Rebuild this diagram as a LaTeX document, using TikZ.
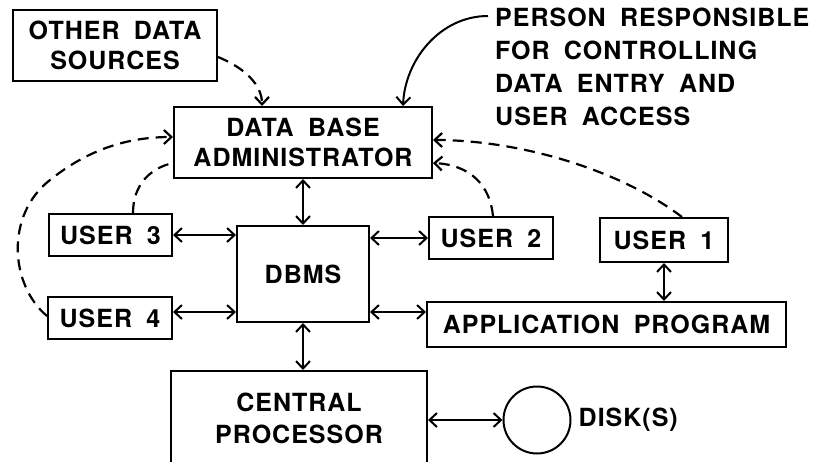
\documentclass[tikz,border=0pt]{standalone}
\usepackage{fontspec}
\setmainfont{TeX Gyre Heros}[LetterSpace=4,WordSpace=1.8]
\usetikzlibrary{arrows.meta}
\begin{document}
\begin{tikzpicture}[x=1pt,y=-1pt,
  lbl/.style={font=\bfseries\fontsize{25}{30}\selectfont, inner sep=0pt, align=center},
  box/.style={lbl, draw, line width=2pt},
  tip/.tip={Straight Barb[length=7.5pt,width=14pt]},
  arr/.style={line width=2pt, tip-tip},
  dsh/.style={line width=2.2pt, dash pattern=on 11pt off 7pt},
]
\clip (0,0) rectangle (817,461);
\useasboundingbox (0,0) rectangle (817,461);

\node[box, minimum width=204pt, minimum height=71pt] (ods) at (115,45.5) {OTHER DATA\\SOURCES};
\node[box, minimum width=258pt, minimum height=71pt] (dba) at (303,142.5) {DATA BASE\\ADMINISTRATOR};
\node[box, minimum width=123pt, minimum height=42pt] (u3) at (110.5,235) {USER 3};
\node[box, minimum width=124pt, minimum height=42pt] (u4) at (110,318) {USER 4};
\node[box, minimum width=132pt, minimum height=96pt] (dbms) at (303,274) {DBMS};
\node[box, minimum width=124pt, minimum height=42pt] (u2) at (491,238) {USER 2};
\node[box, minimum width=128pt, minimum height=44pt] (u1) at (664,240) {USER 1};
\node[box, minimum width=359pt, minimum height=45pt] (app) at (606.5,324.5) {APPLICATION PROGRAM};
\node[draw, line width=2pt, minimum width=256pt, minimum height=110pt, inner sep=0pt] (cpu) at (299,426) {};
\node[lbl, font=\bfseries\fontsize{25}{32}\selectfont] (cput) at (299,418) {CENTRAL\\PROCESSOR};
\node[draw, circle, line width=2pt, minimum size=67pt, inner sep=0pt] (disk) at (537,420) {};
\node[lbl, anchor=west] (diskl) at ([xshift=7pt]disk.east) {DISK(S)};
\node[lbl, align=left, anchor=north west, font=\bfseries\fontsize{25}{33}\selectfont] (person) at (495,8)
  {PERSON RESPONSIBLE\\FOR CONTROLLING\\DATA ENTRY AND\\USER ACCESS};

\coordinate (yl) at (0,312);
\coordinate (pstart) at (488,16);

% solid double arrows
\draw[arr] (dba.south) -- (dbms.north);
\draw[arr] (u3.east) -- (u3.east -| dbms.west);
\draw[arr] (u4.east |- yl) -- (dbms.west |- yl);
\draw[arr] (dbms.east |- u2) -- (u2.west);
\draw[arr] (dbms.east |- yl) -- (app.west |- yl);
\draw[arr] (u1.south) -- (u1.south |- app.north);
\draw[arr] (dbms.south) -- (dbms.south |- cpu.north);
\draw[arr] (cpu.east |- disk) -- (disk.west);

% person pointer
\draw[line width=2pt, -tip] (pstart) .. controls (440,16) and (405,60) .. ([xshift=100pt]dba.north);

% dashed
\draw[dsh, -tip] ([yshift=-11.5pt]ods.east) .. controls (245,68) and (262,85) .. ([xshift=-41pt]dba.north);
\draw[dsh, -tip] ([xshift=18pt]u1.north) .. controls (620,170) and (520,140) .. ([yshift=2.5pt]dba.east);
\draw[dsh, -tip] ([xshift=2pt]u2.north) .. controls (490,185) and (470,165) .. ([yshift=-20.5pt]dba.east);
\draw[dsh] ([xshift=22.5pt]u3.north) .. controls (133,185) and (150,168) .. ([yshift=-20.5pt]dba.west);
\draw[dsh, -tip] ([yshift=2pt]u4.west) .. controls (10,285) and (5,215) .. (50,180) .. controls (90,148) and (130,137) .. ([yshift=5.5pt]dba.west);
\end{tikzpicture}
\end{document}
